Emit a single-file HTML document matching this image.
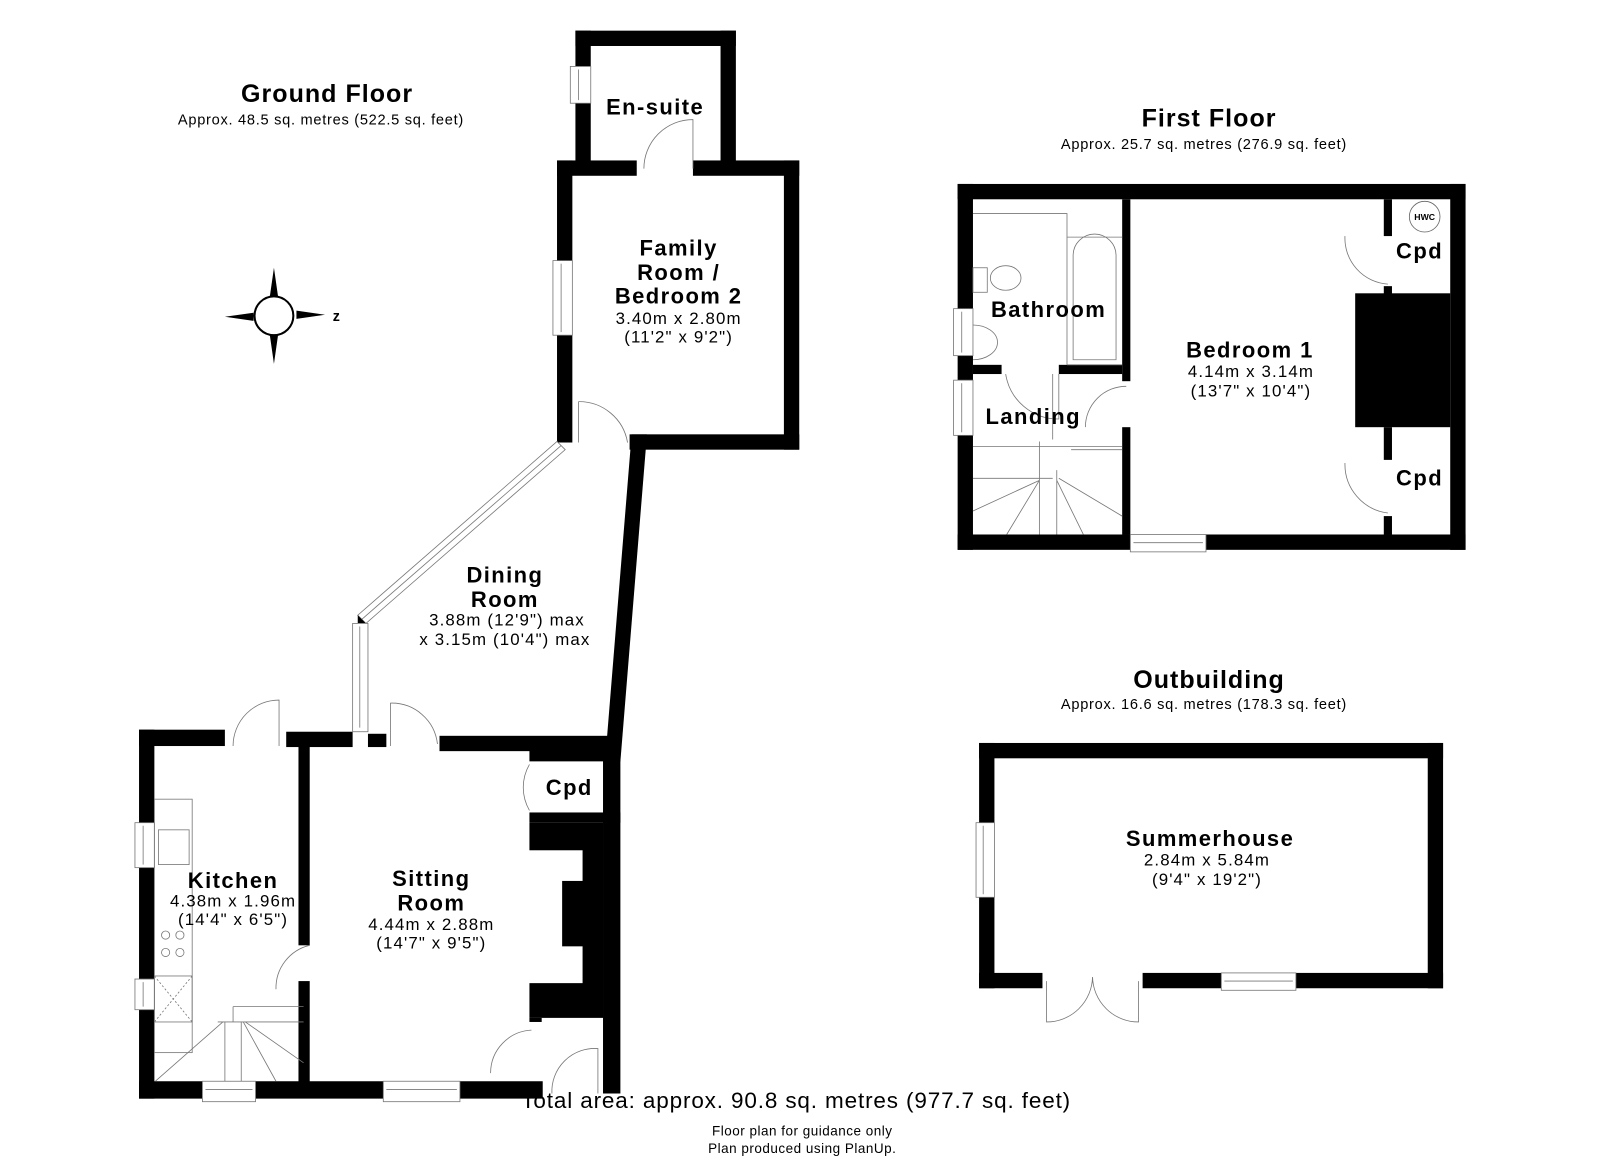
<!DOCTYPE html>
<html><head><meta charset="utf-8"><style>
html,body{margin:0;padding:0;background:#fff}
svg{display:block}
text{font-family:"Liberation Sans",Arial,sans-serif;fill:#000;text-anchor:middle}
.t{font-weight:bold;font-size:21.5px;letter-spacing:1.4px}
.d{font-size:16.5px;letter-spacing:1.1px}
.h{font-weight:bold;font-size:24.5px;letter-spacing:1px}
.s{font-size:14.3px;letter-spacing:0.7px}
.w{fill:#fff;stroke:#777;stroke-width:0.8}
.l{fill:none;stroke:#777;stroke-width:0.8}
</style></head><body>
<svg width="1600" height="1163" viewBox="0 0 1565.5 1138" xmlns="http://www.w3.org/2000/svg">
<rect x="0" y="0" width="1566" height="1138" fill="#fff"/>
<!-- titles -->
<text x="320" y="100" class="h">Ground Floor</text>
<text x="314" y="122" class="s">Approx. 48.5 sq. metres (522.5 sq. feet)</text>
<text x="1183" y="124" class="h">First Floor</text>
<text x="1178" y="146" class="s">Approx. 25.7 sq. metres (276.9 sq. feet)</text>
<text x="1183" y="673" class="h">Outbuilding</text>
<text x="1178" y="694" class="s">Approx. 16.6 sq. metres (178.3 sq. feet)</text>

<!-- compass -->
<g>
<polygon points="268,262 264,290 272,290" fill="#000"/>
<polygon points="268,356 264,328 272,328" fill="#000"/>
<polygon points="220,310 248,306 248,314" fill="#000"/>
<polygon points="318,308 290,304 290,312" fill="#000"/>
<circle cx="268" cy="309" r="19" fill="#fff" stroke="#000" stroke-width="2"/>
<text x="329" y="314" style="font-weight:bold;font-size:14px">z</text>
</g>

<!-- GROUND FLOOR walls -->
<g fill="#000">
<rect x="563" y="30" width="157" height="15"/>
<rect x="563" y="30" width="15" height="135"/>
<rect x="705" y="30" width="15" height="135"/>
<rect x="545" y="157" width="78" height="15"/>
<rect x="678" y="157" width="104" height="15"/>
<rect x="545" y="157" width="15" height="276"/>
<rect x="767" y="157" width="15" height="283"/>
<rect x="616" y="425" width="166" height="15"/>
<polygon points="618,425 633,425 607,745 592,745"/>
<rect x="136" y="714" width="84" height="16"/>
<rect x="280" y="716" width="65" height="15"/>
<rect x="360" y="718" width="18" height="13"/>
<rect x="430" y="720" width="177" height="15"/>
<rect x="136" y="714" width="15" height="361"/>
<rect x="292" y="730" width="11" height="195"/>
<rect x="292" y="960" width="11" height="100"/>
<rect x="136" y="1058" width="395" height="17"/>
<rect x="590" y="735" width="17" height="335"/>
<rect x="518" y="730" width="89" height="15"/>
<rect x="518" y="795" width="89" height="10"/>
<rect x="518" y="805" width="72" height="27"/>
<rect x="570" y="830" width="20" height="34"/>
<rect x="550" y="862" width="40" height="64"/>
<rect x="570" y="924" width="20" height="40"/>
<rect x="518" y="962" width="72" height="34"/>
<rect x="518" y="996" width="12" height="4"/>
</g>
<!-- ground windows -->
<rect x="558" y="65" width="20" height="36" class="w"/><line x1="566" y1="68" x2="566" y2="98" class="l"/>
<rect x="541" y="255" width="19" height="73" class="w"/><line x1="549" y1="258" x2="549" y2="325" class="l"/>
<polygon points="545,432 553,440 358,610 350,602" class="w"/>
<polygon points="350,602 358,610 350,610" fill="#000"/>
<line x1="549" y1="436" x2="354" y2="606" class="l"/>
<rect x="345" y="610" width="15" height="106" class="w"/><line x1="352" y1="613" x2="352" y2="712" class="l"/>
<rect x="132" y="805" width="19" height="44" class="w"/><line x1="140" y1="808" x2="140" y2="846" class="l"/>
<rect x="132" y="958" width="19" height="30" class="w"/><line x1="140" y1="961" x2="140" y2="985" class="l"/>
<rect x="198" y="1058" width="52" height="20" class="w"/><line x1="201" y1="1066" x2="247" y2="1066" class="l"/>
<rect x="375" y="1058" width="75" height="20" class="w"/><line x1="378" y1="1066" x2="447" y2="1066" class="l"/>
<!-- ground doors -->
<path d="M630,165 A48,48 0 0 1 678,117 L678,165" class="l"/>
<path d="M566,393 A48,48 0 0 1 614,433 M566,393 L566,433" class="l"/>
<path d="M228,730 A45,45 0 0 1 273,685 L273,730" class="l"/>
<path d="M382,730 V688 A45,45 0 0 1 428,728" class="l"/>
<path d="M518,748 A45,45 0 0 0 518,793" class="l"/>
<path d="M270,968 A43,43 0 0 1 303,925" class="l"/>
<path d="M480,1050 A42,42 0 0 1 520,1008" class="l"/>
<path d="M540,1070 A42,42 0 0 1 585,1026 L585,1070" class="l"/>
<!-- kitchen fittings -->
<rect x="151" y="782" width="37" height="248" class="l"/>
<rect x="155" y="812" width="30" height="34" class="l"/>
<circle cx="162" cy="915" r="4" class="l"/><circle cx="176" cy="915" r="4" class="l"/>
<circle cx="162" cy="932" r="4" class="l"/><circle cx="176" cy="932" r="4" class="l"/>
<rect x="151" y="955" width="37" height="45" class="l"/>
<path d="M151,955 L188,1000 M188,955 L151,1000" class="l" stroke-dasharray="2,2"/>
<path d="M228,985 H297 M228,985 V1000 M213,1000 H297 M218,1000 L152,1058 M220,1000 V1058 M236,1000 V1058 M238,1000 L270,1058 M240,1000 L297,1040" class="l"/>
<!-- ground labels -->
<text x="641" y="112" class="t">En-suite</text>
<text x="664" y="250" class="t">Family</text>
<text x="664" y="274" class="t">Room /</text>
<text x="664" y="297" class="t">Bedroom 2</text>
<text x="664" y="317" class="d">3.40m x 2.80m</text>
<text x="664" y="335" class="d">(11'2" x 9'2")</text>
<text x="494" y="570" class="t">Dining</text>
<text x="494" y="594" class="t">Room</text>
<text x="496" y="612" class="d">3.88m (12'9") max</text>
<text x="494" y="631" class="d">x 3.15m (10'4") max</text>
<text x="228" y="869" class="t">Kitchen</text>
<text x="228" y="887" class="d">4.38m x 1.96m</text>
<text x="228" y="905" class="d">(14'4" x 6'5")</text>
<text x="422" y="867" class="t">Sitting</text>
<text x="422" y="891" class="t">Room</text>
<text x="422" y="910" class="d">4.44m x 2.88m</text>
<text x="422" y="928" class="d">(14'7" x 9'5")</text>
<text x="557" y="778" class="t">Cpd</text>

<!-- FIRST FLOOR -->
<g fill="#000">
<rect x="937" y="180" width="497" height="15"/>
<rect x="937" y="523" width="497" height="15"/>
<rect x="937" y="180" width="15" height="358"/>
<rect x="1419" y="180" width="15" height="358"/>
<rect x="1098" y="195" width="8" height="178"/>
<rect x="1098" y="418" width="8" height="105"/>
<rect x="952" y="357" width="28" height="9"/>
<rect x="1036" y="357" width="62" height="9"/>
<rect x="1354" y="195" width="8" height="36"/>
<rect x="1354" y="418" width="8" height="32"/>
<rect x="1354" y="505" width="8" height="18"/>
<rect x="1326" y="287" width="93" height="131"/>
<rect x="1354" y="280" width="8" height="8"/>
</g>
<rect x="933" y="302" width="19" height="46" class="w"/><line x1="941" y1="305" x2="941" y2="345" class="l"/>
<rect x="933" y="372" width="19" height="54" class="w"/><line x1="941" y1="375" x2="941" y2="423" class="l"/>
<rect x="1106" y="523" width="74" height="17" class="w"/><line x1="1109" y1="531" x2="1177" y2="531" class="l"/>
<path d="M1062,418 A40,40 0 0 1 1102,378" class="l"/>
<path d="M984,366 A52,52 0 0 0 1036,410 L1036,366" class="l"/>
<path d="M1316,231 A45,45 0 0 0 1358,278" class="l"/>
<path d="M1316,453 A48,48 0 0 0 1358,502" class="l"/>
<circle cx="1394" cy="212" r="15" fill="#fff" stroke="#666" stroke-width="0.8"/>
<text x="1394" y="215.5" style="font-weight:bold;font-size:8.5px">HWC</text>
<path d="M952,209 H1044 V357 M1044,232 H1098 M1044,357 H1098" class="l"/>
<path d="M1050,352 V250 A21,21 0 0 1 1092,250 V352 Z" class="l"/>
<ellipse cx="984" cy="272" rx="15" ry="12" class="l"/>
<rect x="952" y="262" width="14" height="24" class="l"/>
<path d="M952,318 A24,17 0 0 1 976,335 A24,17 0 0 1 952,352" class="l"/>
<path d="M1030,366 V430 M952,437 H1098 M1048,440 H1098 M1017,432 V523 M1034,460 V523 M952,468 H1030 M952,500 L1017,470 M985,523 L1017,470 M1034,470 L1060,523 M1036,468 L1098,505" class="l"/>
<text x="1026" y="310" class="t">Bathroom</text>
<text x="1011" y="415" class="t">Landing</text>
<text x="1223" y="350" class="t">Bedroom 1</text>
<text x="1224" y="369" class="d">4.14m x 3.14m</text>
<text x="1224" y="388" class="d">(13'7" x 10'4")</text>
<text x="1389" y="253" class="t">Cpd</text>
<text x="1389" y="475" class="t">Cpd</text>

<!-- OUTBUILDING -->
<g fill="#000">
<rect x="958" y="727" width="454" height="15"/>
<rect x="958" y="727" width="15" height="240"/>
<rect x="1397" y="727" width="15" height="240"/>
<rect x="958" y="952" width="62" height="15"/>
<rect x="1118" y="952" width="294" height="15"/>
</g>
<rect x="1195" y="952" width="73" height="17" class="w"/><line x1="1198" y1="960" x2="1265" y2="960" class="l"/>
<rect x="955" y="805" width="18" height="73" class="w"/><line x1="962" y1="808" x2="962" y2="875" class="l"/>
<path d="M1024,960 V1000 A45,45 0 0 0 1069,956 A45,45 0 0 0 1114,1000 V960" class="l"/>
<text x="1184" y="828" class="t">Summerhouse</text>
<text x="1181" y="847" class="d">2.84m x 5.84m</text>
<text x="1181" y="866" class="d">(9'4" x 19'2")</text>

<!-- footer -->
<text x="779" y="1084" style="font-size:22px;letter-spacing:0.85px">Total area: approx. 90.8 sq. metres (977.7 sq. feet)</text>
<text x="785" y="1111" style="font-size:13.2px;letter-spacing:0.5px">Floor plan for guidance only</text>
<text x="785" y="1128" style="font-size:13.2px;letter-spacing:0.5px">Plan produced using PlanUp.</text>
</svg>
</body></html>
